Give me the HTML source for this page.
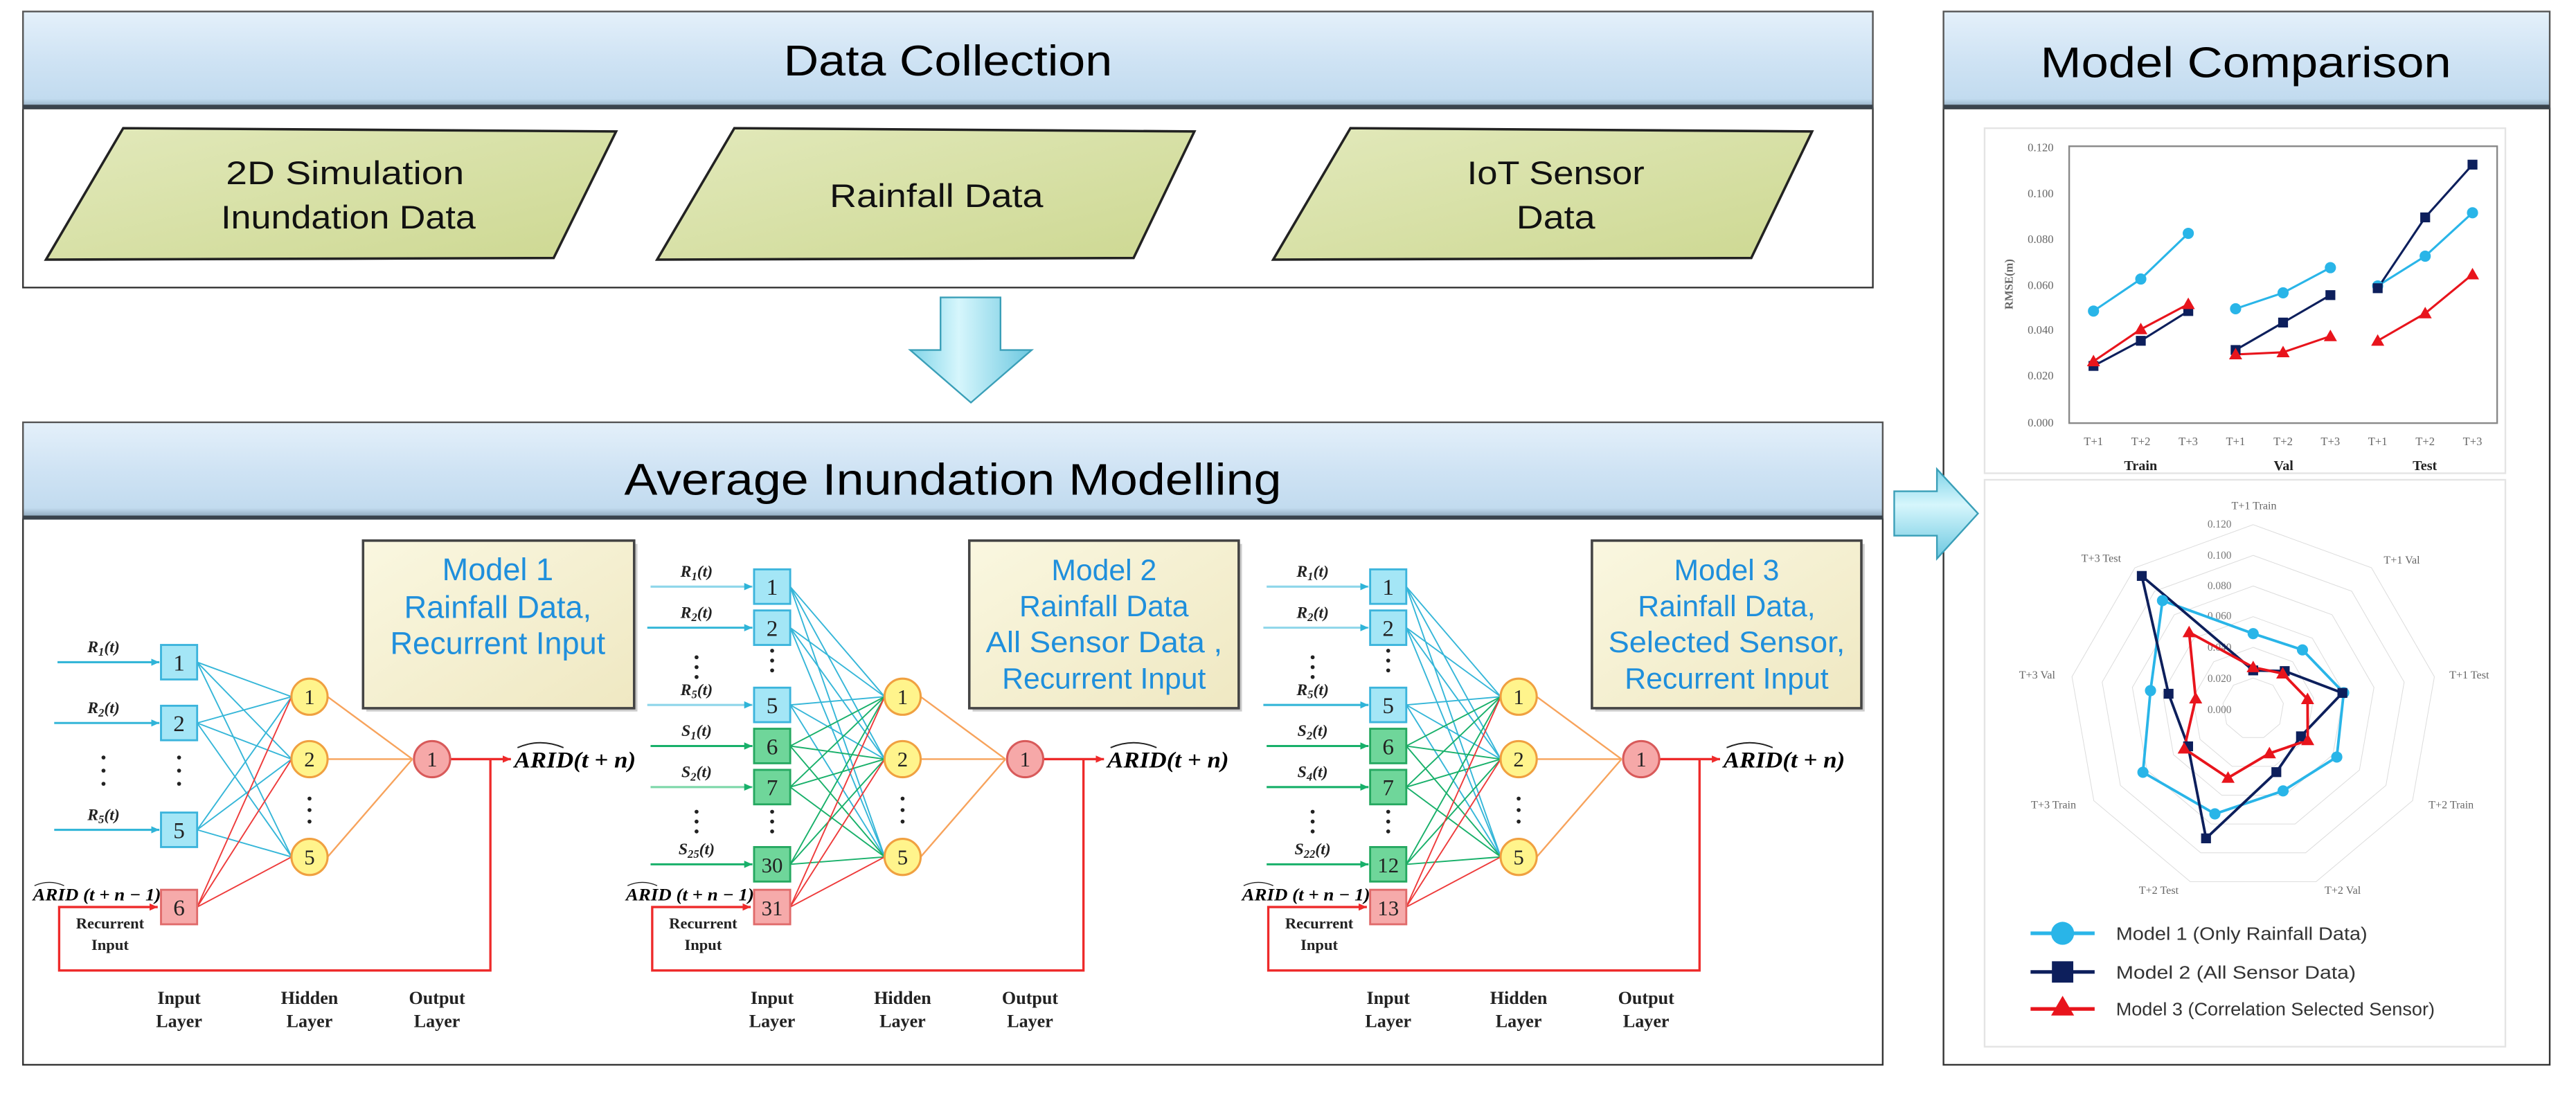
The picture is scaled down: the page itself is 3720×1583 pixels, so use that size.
<!DOCTYPE html>
<html><head><meta charset="utf-8"><style>
html,body{margin:0;padding:0;background:#fff;}
svg{display:block;}
.ser{font-family:"Liberation Serif",serif;}
.san{font-family:"Liberation Sans",sans-serif;}
</style></head><body>
<svg xmlns="http://www.w3.org/2000/svg" width="3720" height="1583" viewBox="0 0 1568 667" preserveAspectRatio="none">
<defs>
<linearGradient id="ban" x1="0" y1="0" x2="0" y2="1"><stop offset="0" stop-color="#e4f0fa"/><stop offset="0.5" stop-color="#cfe3f4"/><stop offset="0.9" stop-color="#c2dbef"/><stop offset="1" stop-color="#8aa4b8"/></linearGradient>
<linearGradient id="par" x1="0" y1="0" x2="1" y2="1"><stop offset="0" stop-color="#e2e9bb"/><stop offset="1" stop-color="#cdd892"/></linearGradient>
<linearGradient id="mbox" x1="0" y1="0" x2="1" y2="1"><stop offset="0" stop-color="#faf7e0"/><stop offset="1" stop-color="#efe8c2"/></linearGradient>
<linearGradient id="arr" x1="0" y1="0" x2="1" y2="0"><stop offset="0" stop-color="#7fd4e8"/><stop offset="0.4" stop-color="#d6f6fc"/><stop offset="1" stop-color="#6cc8e0"/></linearGradient>
<linearGradient id="arr2" x1="0" y1="0" x2="0" y2="1"><stop offset="0" stop-color="#7fd4e8"/><stop offset="0.4" stop-color="#d6f6fc"/><stop offset="1" stop-color="#6cc8e0"/></linearGradient>
<marker id="ac" markerWidth="6" markerHeight="6" refX="5" refY="3" orient="auto" markerUnits="userSpaceOnUse"><path d="M0,0.8L5,3L0,5.2Z" fill="#2fb4d8"/></marker>
<marker id="ag" markerWidth="6" markerHeight="6" refX="5" refY="3" orient="auto" markerUnits="userSpaceOnUse"><path d="M0,0.8L5,3L0,5.2Z" fill="#18b06a"/></marker>
<marker id="ar" markerWidth="6" markerHeight="6" refX="5" refY="3" orient="auto" markerUnits="userSpaceOnUse"><path d="M0,0.8L5,3L0,5.2Z" fill="#ee2a2a"/></marker>
<circle id="mc" r="3.4" fill="#29b5e8"/>
<rect id="ms" x="-3" y="-3" width="6" height="6" fill="#0d1f5c"/>
<path id="mt" d="M0,-4L4,3H-4Z" fill="#e8141c"/>
</defs>

<!-- ===== Data Collection ===== -->
<rect x="14" y="66" width="1126" height="109" fill="#fff" stroke="#333" stroke-width="1"/>
<rect x="14" y="7" width="1126" height="59" fill="url(#ban)" stroke="#555" stroke-width="1"/>
<line x1="14" y1="65" x2="1140" y2="65" stroke="#3a434c" stroke-width="2.5"/>
<text x="577" y="46" text-anchor="middle" class="san" font-size="26" textLength="200" lengthAdjust="spacingAndGlyphs">Data Collection</text>

<polygon points="75,78 375,80 337,157 28,158" fill="url(#par)" stroke="#222" stroke-width="1.5"/>
<polygon points="447,78 727,80 690,157 400,158" fill="url(#par)" stroke="#222" stroke-width="1.5"/>
<polygon points="822,78 1103,80 1066,157 775,158" fill="url(#par)" stroke="#222" stroke-width="1.5"/>
<text class="san" font-size="20" text-anchor="middle" fill="#111"><tspan x="210" y="112" textLength="145" lengthAdjust="spacingAndGlyphs">2D Simulation</tspan><tspan x="212" y="139" textLength="155" lengthAdjust="spacingAndGlyphs">Inundation Data</tspan></text>
<text x="570" y="126" class="san" font-size="20" text-anchor="middle" textLength="130" lengthAdjust="spacingAndGlyphs" fill="#111">Rainfall Data</text>
<text class="san" font-size="20" text-anchor="middle" fill="#111"><tspan x="947" y="112" textLength="108" lengthAdjust="spacingAndGlyphs">IoT Sensor</tspan><tspan x="947" y="139" textLength="48" lengthAdjust="spacingAndGlyphs">Data</tspan></text>

<!-- down arrow -->
<polygon points="572.5,181 609,181 609,213 628,213 591,245 554,213 572.5,213" fill="url(#arr)" stroke="#3a9fb8" stroke-width="1"/>

<!-- ===== Average Inundation Modelling ===== -->
<rect x="14" y="315" width="1132" height="333" fill="#fff" stroke="#333" stroke-width="1"/>
<rect x="14" y="257" width="1132" height="58" fill="url(#ban)" stroke="#555" stroke-width="1"/>
<line x1="14" y1="315" x2="1146" y2="315" stroke="#3a434c" stroke-width="2.5"/>
<text x="580" y="301" text-anchor="middle" class="san" font-size="27" textLength="400" lengthAdjust="spacingAndGlyphs">Average Inundation Modelling</text>

<!-- Model boxes -->
<rect x="223" y="331" width="165" height="102" fill="#999" opacity="0.5"/>
<rect x="221" y="329" width="165" height="102" fill="url(#mbox)" stroke="#444" stroke-width="1.5"/>
<text class="san" font-size="19" fill="#1f8fdc" text-anchor="middle"><tspan x="303" y="353">Model 1</tspan><tspan x="303" y="376">Rainfall Data,</tspan><tspan x="303" y="398">Recurrent Input</tspan></text>
<rect x="592" y="331" width="164" height="102" fill="#999" opacity="0.5"/>
<rect x="590" y="329" width="164" height="102" fill="url(#mbox)" stroke="#444" stroke-width="1.5"/>
<text class="san" font-size="18" fill="#1f8fdc" text-anchor="middle"><tspan x="672" y="353">Model 2</tspan><tspan x="672" y="375">Rainfall Data</tspan><tspan x="672" y="397" textLength="144" lengthAdjust="spacingAndGlyphs">All Sensor Data ,</tspan><tspan x="672" y="419">Recurrent Input</tspan></text>
<rect x="971" y="331" width="164" height="102" fill="#999" opacity="0.5"/>
<rect x="969" y="329" width="164" height="102" fill="url(#mbox)" stroke="#444" stroke-width="1.5"/>
<text class="san" font-size="18" fill="#1f8fdc" text-anchor="middle"><tspan x="1051" y="353">Model 3</tspan><tspan x="1051" y="375">Rainfall Data,</tspan><tspan x="1051" y="397" textLength="144" lengthAdjust="spacingAndGlyphs">Selected Sensor,</tspan><tspan x="1051" y="419">Recurrent Input</tspan></text>

<!-- ===== NET 1 ===== -->
<g transform="translate(-361,0)">
 <g stroke-width="0.8" fill="none">
  <g stroke="#35b6d8">
   <line x1="481" y1="403" x2="538.5" y2="424"/><line x1="481" y1="403" x2="538.5" y2="462"/><line x1="481" y1="403" x2="538.5" y2="521.5"/>
   <line x1="481" y1="440" x2="538.5" y2="424"/><line x1="481" y1="440" x2="538.5" y2="462"/><line x1="481" y1="440" x2="538.5" y2="521.5"/>
   <line x1="481" y1="505" x2="538.5" y2="424"/><line x1="481" y1="505" x2="538.5" y2="462"/><line x1="481" y1="505" x2="538.5" y2="521.5"/>
  </g>
  <g stroke="#ee3a3a">
   <line x1="481" y1="552" x2="538.5" y2="424"/><line x1="481" y1="552" x2="538.5" y2="462"/><line x1="481" y1="552" x2="538.5" y2="521.5"/>
  </g>
  <g stroke-width="1.3">
   <line x1="396" y1="403" x2="458" y2="403" stroke="#35b6d8" marker-end="url(#ac)"/>
   <line x1="394" y1="440" x2="458" y2="440" stroke="#35b6d8" marker-end="url(#ac)"/>
   <line x1="394" y1="505" x2="458" y2="505" stroke="#35b6d8" marker-end="url(#ac)"/>
  </g>
 </g>
 <g stroke="#3bb4dc" stroke-width="1.2" fill="#a4e6f6">
  <rect x="459" y="392.5" width="22" height="21"/><rect x="459" y="429.5" width="22" height="21"/><rect x="459" y="494.5" width="22" height="21"/>
 </g>
 <rect x="459" y="541.5" width="22" height="21" fill="#f6aaaa" stroke="#e06a6a" stroke-width="1.2"/>
 <g class="ser" font-size="14" text-anchor="middle" fill="#222">
  <text x="470" y="408">1</text><text x="470" y="445">2</text><text x="470" y="510">5</text><text x="470" y="557">6</text>
 </g>
 <g fill="#222"><circle cx="470" cy="461" r="1.2"/><circle cx="470" cy="469" r="1.2"/><circle cx="470" cy="477" r="1.2"/>
 <circle cx="424" cy="461" r="1.2"/><circle cx="424" cy="469" r="1.2"/><circle cx="424" cy="477" r="1.2"/></g>
 <g class="ser" font-size="10" font-weight="bold" font-style="italic" fill="#222" text-anchor="middle">
  <text x="424" y="397">R<tspan font-size="7" dy="2">1</tspan><tspan dy="-2">(t)</tspan></text>
  <text x="424" y="434">R<tspan font-size="7" dy="2">2</tspan><tspan dy="-2">(t)</tspan></text>
  <text x="424" y="499">R<tspan font-size="7" dy="2">5</tspan><tspan dy="-2">(t)</tspan></text>
 </g>
</g>

<!-- ===== NET 2 ===== -->
<g>
 <g stroke-width="0.8" fill="none">
  <g stroke="#35b6d8">
   <line x1="481" y1="357" x2="538.5" y2="424"/><line x1="481" y1="357" x2="538.5" y2="462"/><line x1="481" y1="357" x2="538.5" y2="521.5"/>
   <line x1="481" y1="382" x2="538.5" y2="424"/><line x1="481" y1="382" x2="538.5" y2="462"/><line x1="481" y1="382" x2="538.5" y2="521.5"/>
   <line x1="481" y1="429" x2="538.5" y2="424"/><line x1="481" y1="429" x2="538.5" y2="462"/><line x1="481" y1="429" x2="538.5" y2="521.5"/>
  </g>
  <g stroke="#18b06a">
   <line x1="481" y1="454" x2="538.5" y2="424"/><line x1="481" y1="454" x2="538.5" y2="462"/><line x1="481" y1="454" x2="538.5" y2="521.5"/>
   <line x1="481" y1="479" x2="538.5" y2="424"/><line x1="481" y1="479" x2="538.5" y2="462"/><line x1="481" y1="479" x2="538.5" y2="521.5"/>
   <line x1="481" y1="526" x2="538.5" y2="424"/><line x1="481" y1="526" x2="538.5" y2="462"/><line x1="481" y1="526" x2="538.5" y2="521.5"/>
  </g>
  <g stroke="#ee3a3a">
   <line x1="481" y1="552" x2="538.5" y2="424"/><line x1="481" y1="552" x2="538.5" y2="462"/><line x1="481" y1="552" x2="538.5" y2="521.5"/>
  </g>
  <g stroke-width="1.3">
   <line x1="396" y1="357" x2="458" y2="357" stroke="#8ed6ea" marker-end="url(#ac)"/>
   <line x1="394" y1="382" x2="458" y2="382" stroke="#35b6d8" marker-end="url(#ac)"/>
   <line x1="394" y1="429" x2="458" y2="429" stroke="#8ed6ea" marker-end="url(#ac)"/>
   <line x1="396" y1="454" x2="458" y2="454" stroke="#18b06a" marker-end="url(#ag)"/>
   <line x1="396" y1="479" x2="458" y2="479" stroke="#7ed8aa" marker-end="url(#ag)"/>
   <line x1="396" y1="526" x2="458" y2="526" stroke="#18b06a" marker-end="url(#ag)"/>
  </g>
 </g>
 <g stroke="#3bb4dc" stroke-width="1.2" fill="#a4e6f6">
  <rect x="459" y="346.5" width="22" height="21"/><rect x="459" y="371.5" width="22" height="21"/><rect x="459" y="418.5" width="22" height="21"/>
 </g>
 <g stroke="#25a860" stroke-width="1.2" fill="#6fd69a">
  <rect x="459" y="443.5" width="22" height="21"/><rect x="459" y="468.5" width="22" height="21"/><rect x="459" y="515.5" width="22" height="21"/>
 </g>
 <rect x="459" y="541.5" width="22" height="21" fill="#f6aaaa" stroke="#e06a6a" stroke-width="1.2"/>
 <g class="ser" font-size="14" text-anchor="middle" fill="#222">
  <text x="470" y="362">1</text><text x="470" y="387">2</text><text x="470" y="434">5</text><text x="470" y="459">6</text><text x="470" y="484">7</text><text x="470" y="531" font-size="13">30</text><text x="470" y="557" font-size="13">31</text>
 </g>
 <g fill="#222"><circle cx="470" cy="396" r="1.2"/><circle cx="470" cy="402" r="1.2"/><circle cx="470" cy="408" r="1.2"/>
 <circle cx="424" cy="400" r="1.2"/><circle cx="424" cy="406" r="1.2"/><circle cx="424" cy="412" r="1.2"/>
 <circle cx="470" cy="494" r="1.2"/><circle cx="470" cy="500" r="1.2"/><circle cx="470" cy="506" r="1.2"/>
 <circle cx="424" cy="494" r="1.2"/><circle cx="424" cy="500" r="1.2"/><circle cx="424" cy="506" r="1.2"/></g>
 <g class="ser" font-size="10" font-weight="bold" font-style="italic" fill="#222" text-anchor="middle">
  <text x="424" y="351">R<tspan font-size="7" dy="2">1</tspan><tspan dy="-2">(t)</tspan></text>
  <text x="424" y="376">R<tspan font-size="7" dy="2">2</tspan><tspan dy="-2">(t)</tspan></text>
  <text x="424" y="423">R<tspan font-size="7" dy="2">5</tspan><tspan dy="-2">(t)</tspan></text>
  <text x="424" y="448">S<tspan font-size="7" dy="2">1</tspan><tspan dy="-2">(t)</tspan></text>
  <text x="424" y="473">S<tspan font-size="7" dy="2">2</tspan><tspan dy="-2">(t)</tspan></text>
  <text x="424" y="520">S<tspan font-size="7" dy="2">25</tspan><tspan dy="-2">(t)</tspan></text>
 </g>
</g>

<!-- ===== NET 3 ===== -->
<g transform="translate(375,0)">
 <g stroke-width="0.8" fill="none">
  <g stroke="#35b6d8">
   <line x1="481" y1="357" x2="538.5" y2="424"/><line x1="481" y1="357" x2="538.5" y2="462"/><line x1="481" y1="357" x2="538.5" y2="521.5"/>
   <line x1="481" y1="382" x2="538.5" y2="424"/><line x1="481" y1="382" x2="538.5" y2="462"/><line x1="481" y1="382" x2="538.5" y2="521.5"/>
   <line x1="481" y1="429" x2="538.5" y2="424"/><line x1="481" y1="429" x2="538.5" y2="462"/><line x1="481" y1="429" x2="538.5" y2="521.5"/>
  </g>
  <g stroke="#18b06a">
   <line x1="481" y1="454" x2="538.5" y2="424"/><line x1="481" y1="454" x2="538.5" y2="462"/><line x1="481" y1="454" x2="538.5" y2="521.5"/>
   <line x1="481" y1="479" x2="538.5" y2="424"/><line x1="481" y1="479" x2="538.5" y2="462"/><line x1="481" y1="479" x2="538.5" y2="521.5"/>
   <line x1="481" y1="526" x2="538.5" y2="424"/><line x1="481" y1="526" x2="538.5" y2="462"/><line x1="481" y1="526" x2="538.5" y2="521.5"/>
  </g>
  <g stroke="#ee3a3a">
   <line x1="481" y1="552" x2="538.5" y2="424"/><line x1="481" y1="552" x2="538.5" y2="462"/><line x1="481" y1="552" x2="538.5" y2="521.5"/>
  </g>
  <g stroke-width="1.3">
   <line x1="396" y1="357" x2="458" y2="357" stroke="#8ed6ea" marker-end="url(#ac)"/>
   <line x1="394" y1="382" x2="458" y2="382" stroke="#8ed6ea" marker-end="url(#ac)"/>
   <line x1="394" y1="429" x2="458" y2="429" stroke="#35b6d8" marker-end="url(#ac)"/>
   <line x1="396" y1="454" x2="458" y2="454" stroke="#18b06a" marker-end="url(#ag)"/>
   <line x1="396" y1="479" x2="458" y2="479" stroke="#18b06a" marker-end="url(#ag)"/>
   <line x1="396" y1="526" x2="458" y2="526" stroke="#18b06a" marker-end="url(#ag)"/>
  </g>
 </g>
 <g stroke="#3bb4dc" stroke-width="1.2" fill="#a4e6f6">
  <rect x="459" y="346.5" width="22" height="21"/><rect x="459" y="371.5" width="22" height="21"/><rect x="459" y="418.5" width="22" height="21"/>
 </g>
 <g stroke="#25a860" stroke-width="1.2" fill="#6fd69a">
  <rect x="459" y="443.5" width="22" height="21"/><rect x="459" y="468.5" width="22" height="21"/><rect x="459" y="515.5" width="22" height="21"/>
 </g>
 <rect x="459" y="541.5" width="22" height="21" fill="#f6aaaa" stroke="#e06a6a" stroke-width="1.2"/>
 <g class="ser" font-size="14" text-anchor="middle" fill="#222">
  <text x="470" y="362">1</text><text x="470" y="387">2</text><text x="470" y="434">5</text><text x="470" y="459">6</text><text x="470" y="484">7</text><text x="470" y="531" font-size="13">12</text><text x="470" y="557" font-size="13">13</text>
 </g>
 <g fill="#222"><circle cx="470" cy="396" r="1.2"/><circle cx="470" cy="402" r="1.2"/><circle cx="470" cy="408" r="1.2"/>
 <circle cx="424" cy="400" r="1.2"/><circle cx="424" cy="406" r="1.2"/><circle cx="424" cy="412" r="1.2"/>
 <circle cx="470" cy="494" r="1.2"/><circle cx="470" cy="500" r="1.2"/><circle cx="470" cy="506" r="1.2"/>
 <circle cx="424" cy="494" r="1.2"/><circle cx="424" cy="500" r="1.2"/><circle cx="424" cy="506" r="1.2"/></g>
 <g class="ser" font-size="10" font-weight="bold" font-style="italic" fill="#222" text-anchor="middle">
  <text x="424" y="351">R<tspan font-size="7" dy="2">1</tspan><tspan dy="-2">(t)</tspan></text>
  <text x="424" y="376">R<tspan font-size="7" dy="2">2</tspan><tspan dy="-2">(t)</tspan></text>
  <text x="424" y="423">R<tspan font-size="7" dy="2">5</tspan><tspan dy="-2">(t)</tspan></text>
  <text x="424" y="448">S<tspan font-size="7" dy="2">2</tspan><tspan dy="-2">(t)</tspan></text>
  <text x="424" y="473">S<tspan font-size="7" dy="2">4</tspan><tspan dy="-2">(t)</tspan></text>
  <text x="424" y="520">S<tspan font-size="7" dy="2">22</tspan><tspan dy="-2">(t)</tspan></text>
 </g>
</g>

<!-- ===== common frames ===== -->
<g transform="translate(-361,0)">
 <g stroke="#f7a35c" stroke-width="1"><line x1="560.4" y1="424" x2="612" y2="462"/><line x1="560.4" y1="462" x2="612" y2="462"/><line x1="560.4" y1="521.5" x2="612" y2="462"/></g>
 <path d="M635,462H672" stroke="#ee2a2a" stroke-width="1.4" marker-end="url(#ar)"/>
 <path d="M659.5,462V590.6H397V552H457" fill="none" stroke="#ee2a2a" stroke-width="1.4" marker-end="url(#ar)"/>
 <g stroke="#f0a040" stroke-width="1.3" fill="#fff48c"><circle cx="549.4" cy="424" r="11"/><circle cx="549.4" cy="462" r="11"/><circle cx="549.4" cy="521.5" r="11"/></g>
 <circle cx="624" cy="462" r="11" fill="#f6a8a8" stroke="#d85a5a" stroke-width="1.3"/>
 <g fill="#222"><circle cx="549.4" cy="486" r="1.2"/><circle cx="549.4" cy="493" r="1.2"/><circle cx="549.4" cy="500" r="1.2"/></g>
 <g class="ser" font-size="13" text-anchor="middle" fill="#222"><text x="549.4" y="428.5">1</text><text x="549.4" y="466.5">2</text><text x="549.4" y="526">5</text><text x="624" y="466.5">1</text></g>
 <text x="674" y="467" class="ser" font-size="14" font-weight="bold" font-style="italic" textLength="74" lengthAdjust="spacingAndGlyphs">ARID(t + n)</text>
 <path d="M676,455Q690,449 704,455" fill="none" stroke="#222" stroke-width="0.8"/>
 <text x="381" y="548" class="ser" font-size="10.5" font-weight="bold" font-style="italic" textLength="78" lengthAdjust="spacingAndGlyphs">ARID (t + n − 1)</text>
 <path d="M382,539Q391,535 400,539" fill="none" stroke="#222" stroke-width="0.6"/>
 <g class="ser" font-size="9.5" font-weight="bold" text-anchor="middle" fill="#222"><text x="428" y="565">Recurrent</text><text x="428" y="578">Input</text></g>
 <g class="ser" font-size="11" font-weight="bold" text-anchor="middle" fill="#222"><text x="470" y="611">Input</text><text x="470" y="625">Layer</text><text x="549.4" y="611">Hidden</text><text x="549.4" y="625">Layer</text><text x="627" y="611">Output</text><text x="627" y="625">Layer</text></g>
</g>
<g>
 <g stroke="#f7a35c" stroke-width="1"><line x1="560.4" y1="424" x2="612" y2="462"/><line x1="560.4" y1="462" x2="612" y2="462"/><line x1="560.4" y1="521.5" x2="612" y2="462"/></g>
 <path d="M635,462H672" stroke="#ee2a2a" stroke-width="1.4" marker-end="url(#ar)"/>
 <path d="M659.5,462V590.6H397V552H457" fill="none" stroke="#ee2a2a" stroke-width="1.4" marker-end="url(#ar)"/>
 <g stroke="#f0a040" stroke-width="1.3" fill="#fff48c"><circle cx="549.4" cy="424" r="11"/><circle cx="549.4" cy="462" r="11"/><circle cx="549.4" cy="521.5" r="11"/></g>
 <circle cx="624" cy="462" r="11" fill="#f6a8a8" stroke="#d85a5a" stroke-width="1.3"/>
 <g fill="#222"><circle cx="549.4" cy="486" r="1.2"/><circle cx="549.4" cy="493" r="1.2"/><circle cx="549.4" cy="500" r="1.2"/></g>
 <g class="ser" font-size="13" text-anchor="middle" fill="#222"><text x="549.4" y="428.5">1</text><text x="549.4" y="466.5">2</text><text x="549.4" y="526">5</text><text x="624" y="466.5">1</text></g>
 <text x="674" y="467" class="ser" font-size="14" font-weight="bold" font-style="italic" textLength="74" lengthAdjust="spacingAndGlyphs">ARID(t + n)</text>
 <path d="M676,455Q690,449 704,455" fill="none" stroke="#222" stroke-width="0.8"/>
 <text x="381" y="548" class="ser" font-size="10.5" font-weight="bold" font-style="italic" textLength="78" lengthAdjust="spacingAndGlyphs">ARID (t + n − 1)</text>
 <path d="M382,539Q391,535 400,539" fill="none" stroke="#222" stroke-width="0.6"/>
 <g class="ser" font-size="9.5" font-weight="bold" text-anchor="middle" fill="#222"><text x="428" y="565">Recurrent</text><text x="428" y="578">Input</text></g>
 <g class="ser" font-size="11" font-weight="bold" text-anchor="middle" fill="#222"><text x="470" y="611">Input</text><text x="470" y="625">Layer</text><text x="549.4" y="611">Hidden</text><text x="549.4" y="625">Layer</text><text x="627" y="611">Output</text><text x="627" y="625">Layer</text></g>
</g>
<g transform="translate(375,0)">
 <g stroke="#f7a35c" stroke-width="1"><line x1="560.4" y1="424" x2="612" y2="462"/><line x1="560.4" y1="462" x2="612" y2="462"/><line x1="560.4" y1="521.5" x2="612" y2="462"/></g>
 <path d="M635,462H672" stroke="#ee2a2a" stroke-width="1.4" marker-end="url(#ar)"/>
 <path d="M659.5,462V590.6H397V552H457" fill="none" stroke="#ee2a2a" stroke-width="1.4" marker-end="url(#ar)"/>
 <g stroke="#f0a040" stroke-width="1.3" fill="#fff48c"><circle cx="549.4" cy="424" r="11"/><circle cx="549.4" cy="462" r="11"/><circle cx="549.4" cy="521.5" r="11"/></g>
 <circle cx="624" cy="462" r="11" fill="#f6a8a8" stroke="#d85a5a" stroke-width="1.3"/>
 <g fill="#222"><circle cx="549.4" cy="486" r="1.2"/><circle cx="549.4" cy="493" r="1.2"/><circle cx="549.4" cy="500" r="1.2"/></g>
 <g class="ser" font-size="13" text-anchor="middle" fill="#222"><text x="549.4" y="428.5">1</text><text x="549.4" y="466.5">2</text><text x="549.4" y="526">5</text><text x="624" y="466.5">1</text></g>
 <text x="674" y="467" class="ser" font-size="14" font-weight="bold" font-style="italic" textLength="74" lengthAdjust="spacingAndGlyphs">ARID(t + n)</text>
 <path d="M676,455Q690,449 704,455" fill="none" stroke="#222" stroke-width="0.8"/>
 <text x="381" y="548" class="ser" font-size="10.5" font-weight="bold" font-style="italic" textLength="78" lengthAdjust="spacingAndGlyphs">ARID (t + n − 1)</text>
 <path d="M382,539Q391,535 400,539" fill="none" stroke="#222" stroke-width="0.6"/>
 <g class="ser" font-size="9.5" font-weight="bold" text-anchor="middle" fill="#222"><text x="428" y="565">Recurrent</text><text x="428" y="578">Input</text></g>
 <g class="ser" font-size="11" font-weight="bold" text-anchor="middle" fill="#222"><text x="470" y="611">Input</text><text x="470" y="625">Layer</text><text x="549.4" y="611">Hidden</text><text x="549.4" y="625">Layer</text><text x="627" y="611">Output</text><text x="627" y="625">Layer</text></g>
</g>

<!-- ===== Model Comparison ===== -->
<rect x="1183" y="66" width="369" height="582" fill="#fff" stroke="#333" stroke-width="1"/>
<rect x="1183" y="7" width="369" height="59" fill="url(#ban)" stroke="#555" stroke-width="1"/>
<line x1="1183" y1="65" x2="1552" y2="65" stroke="#3a434c" stroke-width="2.5"/>
<text x="1367" y="47" text-anchor="middle" class="san" font-size="26" textLength="250" lengthAdjust="spacingAndGlyphs">Model Comparison</text>

<rect x="1208" y="78" width="317" height="210" fill="#fff" stroke="#e4e4e4" stroke-width="1"/>
<rect x="1208" y="292" width="317" height="345" fill="#fff" stroke="#e4e4e4" stroke-width="1"/>

<!-- right arrow (on top of panel) -->
<polygon points="1153,299 1179,299 1179,285.5 1204,312.5 1179,340 1179,326 1153,326" fill="url(#arr2)" stroke="#3a9fb8" stroke-width="1"/>

<!-- line chart -->
<rect x="1259.5" y="89" width="260.5" height="168.5" fill="none" stroke="#888" stroke-width="1"/>
<g class="ser" font-size="7" fill="#666" text-anchor="end">
 <text x="1250" y="92">0.120</text><text x="1250" y="120">0.100</text><text x="1250" y="148">0.080</text><text x="1250" y="176">0.060</text><text x="1250" y="203">0.040</text><text x="1250" y="231">0.020</text><text x="1250" y="259.5">0.000</text>
</g>
<text transform="translate(1225,173) rotate(-90)" class="ser" font-size="7" font-weight="bold" fill="#666" text-anchor="middle">RMSE(m)</text>
<g class="ser" font-size="7" fill="#666" text-anchor="middle">
 <text x="1274.3" y="271">T+1</text><text x="1303.1" y="271">T+2</text><text x="1332" y="271">T+3</text>
 <text x="1360.8" y="271">T+1</text><text x="1389.7" y="271">T+2</text><text x="1418.5" y="271">T+3</text>
 <text x="1447.3" y="271">T+1</text><text x="1476.2" y="271">T+2</text><text x="1505" y="271">T+3</text>
</g>
<g class="ser" font-size="8.5" font-weight="bold" fill="#222" text-anchor="middle"><text x="1303" y="286">Train</text><text x="1390" y="286">Val</text><text x="1476" y="286">Test</text></g>
<g fill="none" stroke-width="1.3">
 <polyline stroke="#29b5e8" points="1274.3,189.3 1303.1,169.8 1332,142"/>
 <polyline stroke="#29b5e8" points="1360.8,187.9 1389.7,178.2 1418.5,162.9"/>
 <polyline stroke="#29b5e8" points="1447.3,174 1476.2,155.9 1505,129.5"/>
 <polyline stroke="#0d1f5c" points="1274.3,222.7 1303.1,207.4 1332,189.3"/>
 <polyline stroke="#0d1f5c" points="1360.8,213 1389.7,196.3 1418.5,179.6"/>
 <polyline stroke="#0d1f5c" points="1447.3,175.4 1476.2,132.3 1505,100.2"/>
 <polyline stroke="#e8141c" points="1274.3,219.9 1303.1,200.4 1332,185.1"/>
 <polyline stroke="#e8141c" points="1360.8,215.7 1389.7,214.4 1418.5,204.6"/>
 <polyline stroke="#e8141c" points="1447.3,207.4 1476.2,190.7 1505,167"/>
</g>
<use href="#mc" x="1274.3" y="189.3"/><use href="#mc" x="1303.1" y="169.8"/><use href="#mc" x="1332" y="142"/>
<use href="#mc" x="1360.8" y="187.9"/><use href="#mc" x="1389.7" y="178.2"/><use href="#mc" x="1418.5" y="162.9"/>
<use href="#mc" x="1447.3" y="174"/><use href="#mc" x="1476.2" y="155.9"/><use href="#mc" x="1505" y="129.5"/>
<use href="#ms" x="1274.3" y="222.7"/><use href="#ms" x="1303.1" y="207.4"/><use href="#ms" x="1332" y="189.3"/>
<use href="#ms" x="1360.8" y="213"/><use href="#ms" x="1389.7" y="196.3"/><use href="#ms" x="1418.5" y="179.6"/>
<use href="#ms" x="1447.3" y="175.4"/><use href="#ms" x="1476.2" y="132.3"/><use href="#ms" x="1505" y="100.2"/>
<use href="#mt" x="1274.3" y="219.9"/><use href="#mt" x="1303.1" y="200.4"/><use href="#mt" x="1332" y="185.1"/>
<use href="#mt" x="1360.8" y="215.7"/><use href="#mt" x="1389.7" y="214.4"/><use href="#mt" x="1418.5" y="204.6"/>
<use href="#mt" x="1447.3" y="207.4"/><use href="#mt" x="1476.2" y="190.7"/><use href="#mt" x="1505" y="167"/>

<!-- radar -->
<g transform="translate(1371.5,431.3)" fill="none" stroke="#dcdcdc" stroke-width="1">
 <g transform="scale(18.67)"><polygon vector-effect="non-scaling-stroke" points="0,-1 .6428,-.766 .9848,-.1736 .866,.5 .342,.9397 -.342,.9397 -.866,.5 -.9848,-.1736 -.6428,-.766"/></g>
 <g transform="scale(37.33)"><polygon vector-effect="non-scaling-stroke" points="0,-1 .6428,-.766 .9848,-.1736 .866,.5 .342,.9397 -.342,.9397 -.866,.5 -.9848,-.1736 -.6428,-.766"/></g>
 <g transform="scale(56)"><polygon vector-effect="non-scaling-stroke" points="0,-1 .6428,-.766 .9848,-.1736 .866,.5 .342,.9397 -.342,.9397 -.866,.5 -.9848,-.1736 -.6428,-.766"/></g>
 <g transform="scale(74.67)"><polygon vector-effect="non-scaling-stroke" points="0,-1 .6428,-.766 .9848,-.1736 .866,.5 .342,.9397 -.342,.9397 -.866,.5 -.9848,-.1736 -.6428,-.766"/></g>
 <g transform="scale(93.33)"><polygon vector-effect="non-scaling-stroke" points="0,-1 .6428,-.766 .9848,-.1736 .866,.5 .342,.9397 -.342,.9397 -.866,.5 -.9848,-.1736 -.6428,-.766"/></g>
 <g transform="scale(112)"><polygon vector-effect="non-scaling-stroke" points="0,-1 .6428,-.766 .9848,-.1736 .866,.5 .342,.9397 -.342,.9397 -.866,.5 -.9848,-.1736 -.6428,-.766"/></g>
</g>
<g class="ser" font-size="6.5" fill="#777" text-anchor="middle">
 <text x="1351" y="321">0.120</text><text x="1351" y="340">0.100</text><text x="1351" y="358.5">0.080</text><text x="1351" y="377">0.060</text><text x="1351" y="396">0.040</text><text x="1351" y="415">0.020</text><text x="1351" y="434">0.000</text>
</g>
<g class="ser" font-size="6.8" fill="#666" text-anchor="middle">
 <text x="1372" y="310">T+1 Train</text><text x="1462" y="343">T+1 Val</text><text x="1503" y="413">T+1 Test</text><text x="1492" y="492">T+2 Train</text>
 <text x="1426" y="544">T+2 Val</text><text x="1314" y="544">T+2 Test</text><text x="1250" y="492">T+3 Train</text><text x="1240" y="413">T+3 Val</text><text x="1279" y="342">T+3 Test</text>
</g>
<polygon fill="none" stroke="#29b5e8" stroke-width="1.6" points="1371.5,385.6 1401.5,395.5 1426.6,421.6 1422.4,460.7 1389.7,481.3 1348.2,495.3 1304.4,470 1309,420.3 1316.3,365.5"/>
<polygon fill="none" stroke="#0d1f5c" stroke-width="1.6" points="1371.5,408 1390.7,408.4 1425.8,421.7 1400.6,448.1 1385.6,469.9 1342.8,510.2 1331.9,454.2 1320,422.2 1303.7,350.5"/>
<polygon fill="none" stroke="#e8141c" stroke-width="1.6" points="1371.5,406.1 1389.5,409.9 1404.6,425.5 1404.7,450.5 1381.4,458.5 1356.2,473.4 1329.5,455.6 1336.5,425.1 1332.5,384.8"/>
<use href="#mc" x="1371.5" y="385.6"/><use href="#mc" x="1401.5" y="395.5"/><use href="#mc" x="1426.6" y="421.6"/><use href="#mc" x="1422.4" y="460.7"/><use href="#mc" x="1389.7" y="481.3"/><use href="#mc" x="1348.2" y="495.3"/><use href="#mc" x="1304.4" y="470"/><use href="#mc" x="1309" y="420.3"/><use href="#mc" x="1316.3" y="365.5"/>
<use href="#ms" x="1371.5" y="408"/><use href="#ms" x="1390.7" y="408.4"/><use href="#ms" x="1425.8" y="421.7"/><use href="#ms" x="1400.6" y="448.1"/><use href="#ms" x="1385.6" y="469.9"/><use href="#ms" x="1342.8" y="510.2"/><use href="#ms" x="1331.9" y="454.2"/><use href="#ms" x="1320" y="422.2"/><use href="#ms" x="1303.7" y="350.5"/>
<use href="#mt" x="1371.5" y="406.1"/><use href="#mt" x="1389.5" y="409.9"/><use href="#mt" x="1404.6" y="425.5"/><use href="#mt" x="1404.7" y="450.5"/><use href="#mt" x="1381.4" y="458.5"/><use href="#mt" x="1356.2" y="473.4"/><use href="#mt" x="1329.5" y="455.6"/><use href="#mt" x="1336.5" y="425.1"/><use href="#mt" x="1332.5" y="384.8"/>

<!-- legend -->
<line x1="1236" y1="568" x2="1275" y2="568" stroke="#29b5e8" stroke-width="2.2"/><circle cx="1255.5" cy="568" r="7" fill="#29b5e8"/>
<line x1="1236" y1="591.5" x2="1275" y2="591.5" stroke="#0d1f5c" stroke-width="2.2"/><rect x="1249" y="585" width="13" height="13" fill="#0d1f5c"/>
<line x1="1236" y1="614" x2="1275" y2="614" stroke="#e8141c" stroke-width="2.2"/><path d="M1255.5,606L1262.5,618H1248.5Z" fill="#e8141c"/>
<g class="san" font-size="11" fill="#333">
 <text x="1288" y="572" textLength="153" lengthAdjust="spacingAndGlyphs">Model 1 (Only Rainfall Data)</text>
 <text x="1288" y="595.5" textLength="146" lengthAdjust="spacingAndGlyphs">Model 2 (All Sensor Data)</text>
 <text x="1288" y="618" textLength="194" lengthAdjust="spacingAndGlyphs">Model 3 (Correlation Selected Sensor)</text>
</g>
</svg>
</body></html>
